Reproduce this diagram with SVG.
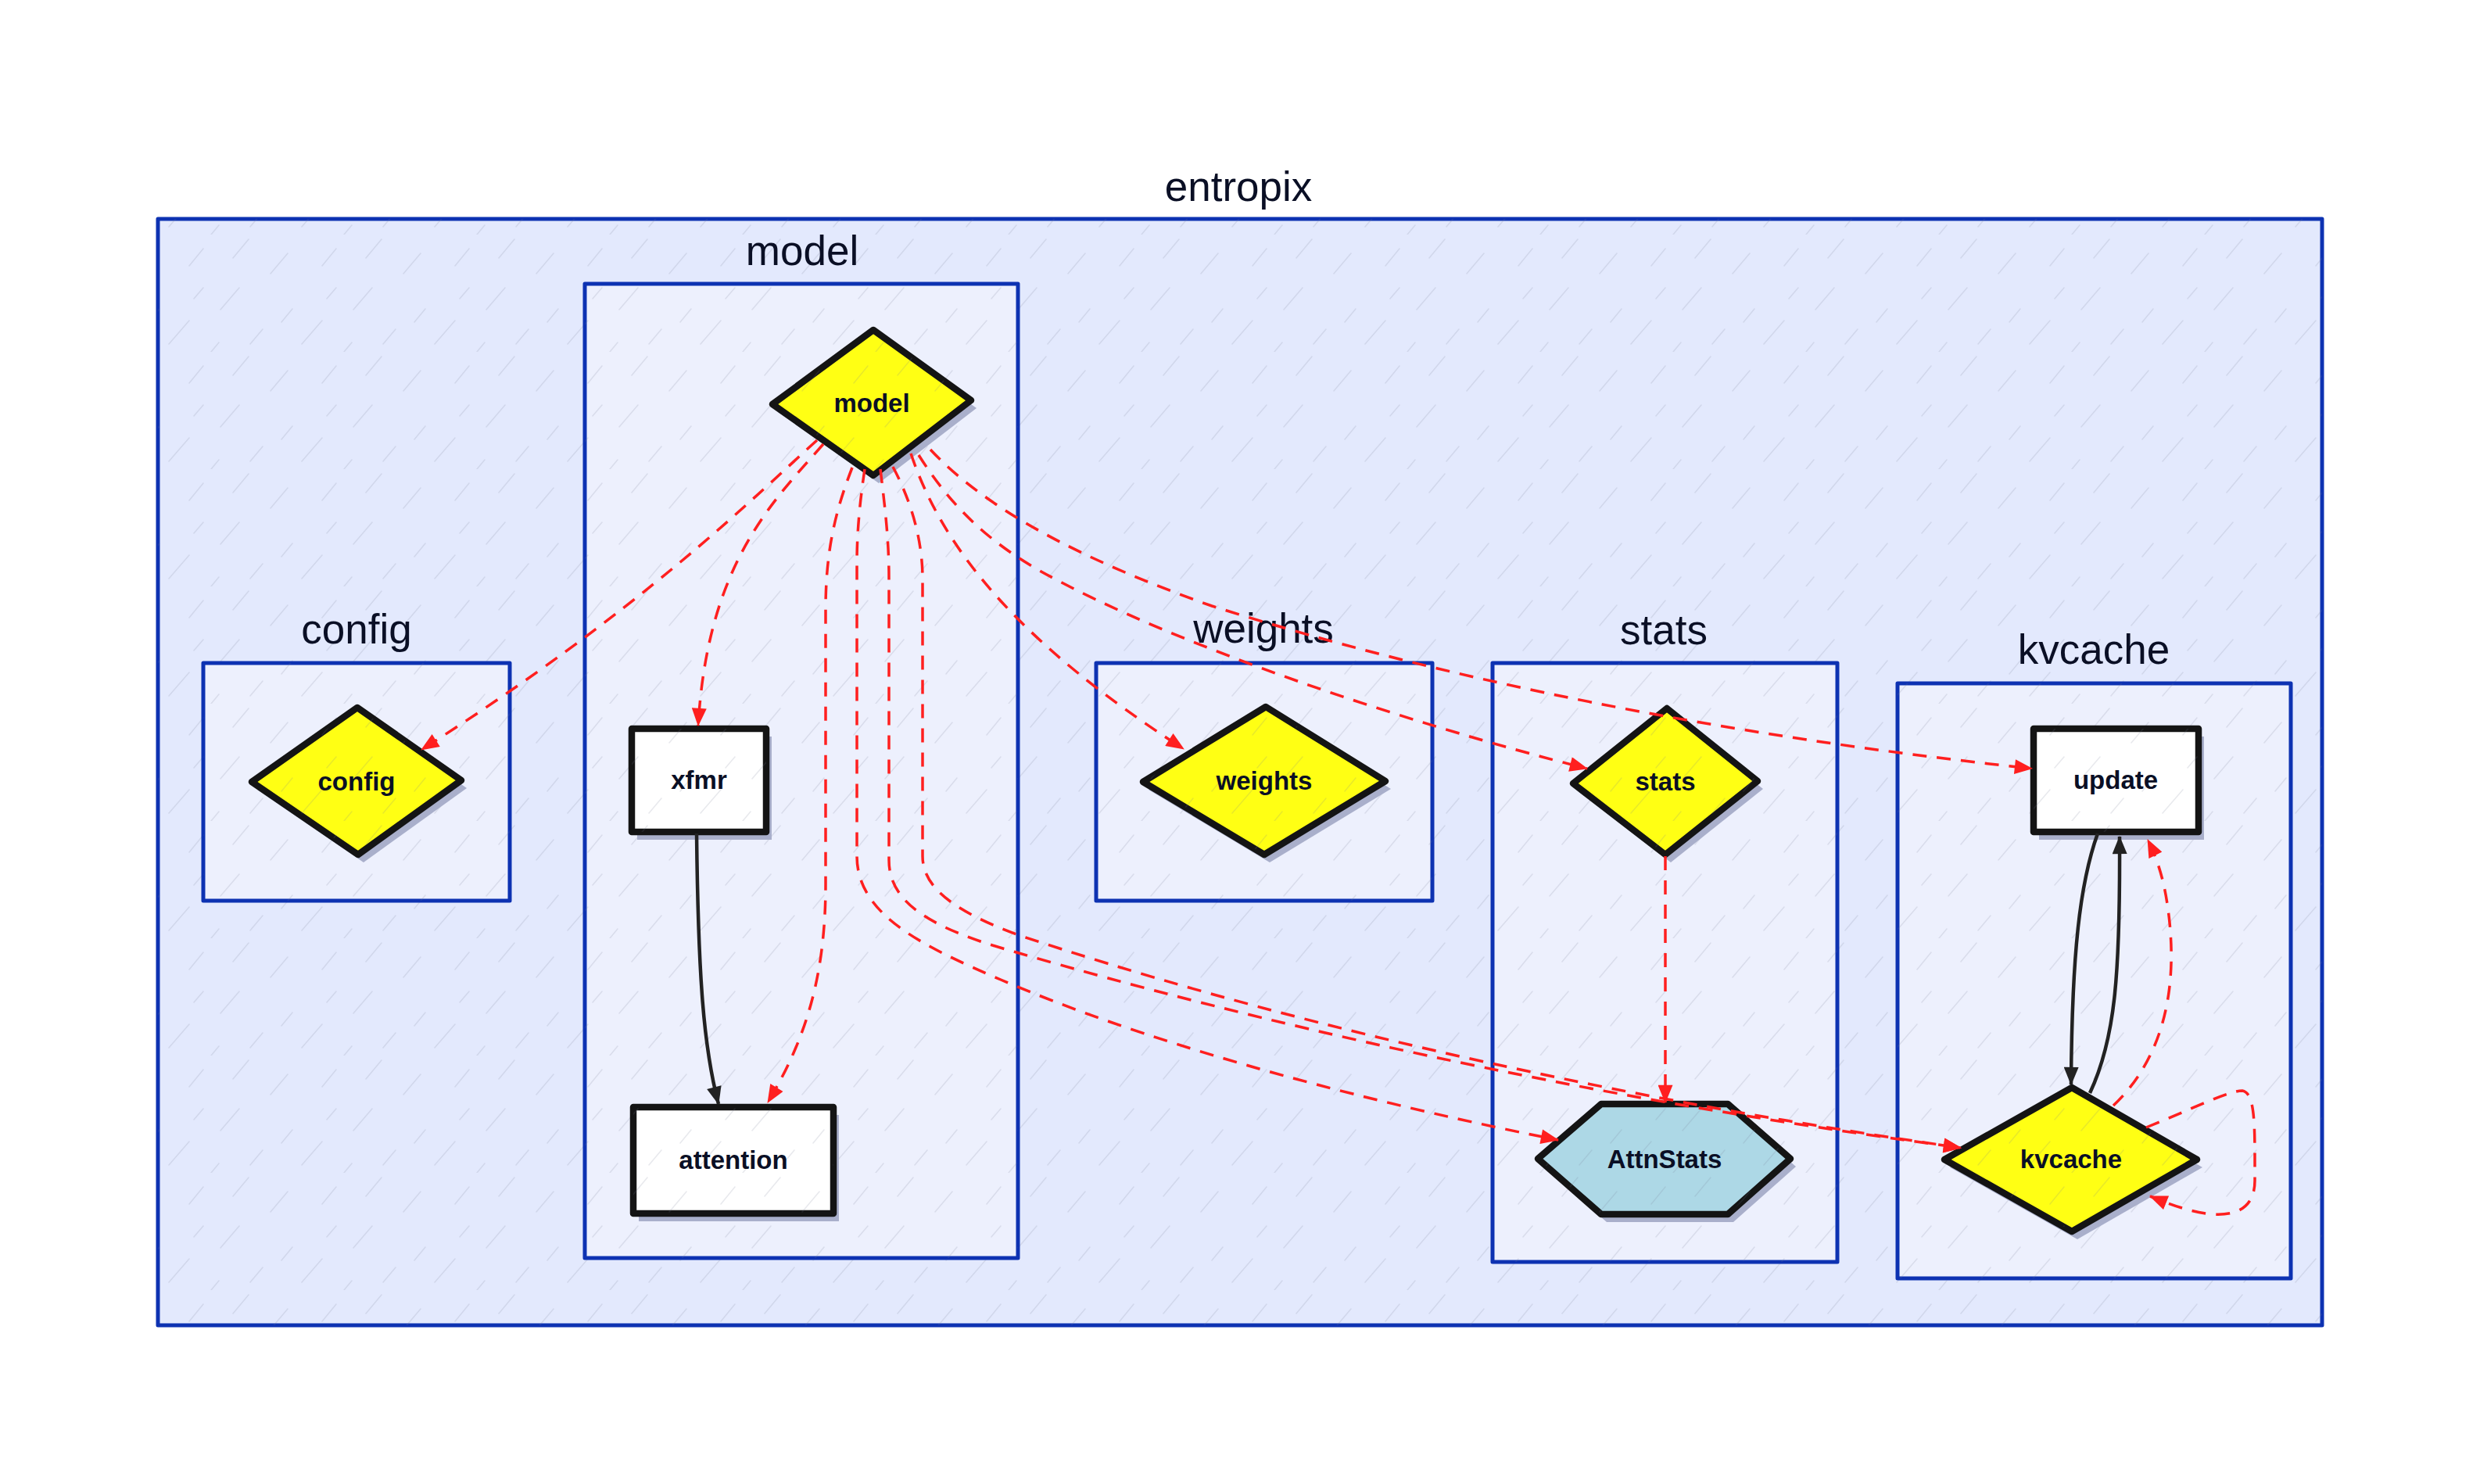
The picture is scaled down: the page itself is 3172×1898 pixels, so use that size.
<svg xmlns="http://www.w3.org/2000/svg" width="3172" height="1898" viewBox="0 0 3172 1898">
<style>
.ctr{stroke:#0D32B2;stroke-width:5;stroke-linejoin:round}
.c1{fill:#E3E9FD}
.c2{fill:#EDF0FD}
.hatch{fill:url(#hatch);stroke:none}
.clabel{font-family:"Liberation Sans",Arial,sans-serif;font-size:53px;fill:#0A0F25;text-anchor:middle}
.nlabel{font-family:"Liberation Sans",Arial,sans-serif;font-weight:bold;font-size:33px;fill:#0A0F25;text-anchor:middle}
.node{stroke:#141414;stroke-width:8.5;stroke-linejoin:round}
.shadow{fill:#A9AFCB}
.yel{fill:#FFFF14}
.wht{fill:#FFFFFF}
.blu{fill:#ADD8E6}
.dash{fill:none;stroke:#FF1F1F;stroke-width:3.5;stroke-dasharray:18 13}
.solid{fill:none;stroke:#222222;stroke-width:4.5}
</style>
<defs>
<pattern id="hatch" patternUnits="userSpaceOnUse" width="170" height="150">
<path d="M6 50 l22 -26 M46 140 l26 -30 M72 40 l18 -22 M112 96 l24 -28 M20 112 l14 -17 M128 30 l20 -24 M78 82 l12 -14 M150 140 l16 -19 M100 150 l10 -12" stroke="#6f7590" stroke-opacity="0.16" stroke-width="1.6" stroke-linecap="round" fill="none"/>
</pattern>
<marker id="ar" viewBox="0 0 22 18" refX="21" refY="9" markerWidth="24" markerHeight="19" markerUnits="userSpaceOnUse" orient="auto"><path d="M0 0 L22 9 L0 18 z" fill="#FF1F1F"/></marker>
<marker id="ab" viewBox="0 0 22 18" refX="21" refY="9" markerWidth="24" markerHeight="19" markerUnits="userSpaceOnUse" orient="auto"><path d="M0 0 L22 9 L0 18 z" fill="#222222"/></marker>
</defs>
<rect width="3172" height="1898" fill="#FFFFFF"/>

<g id="entropix">
<rect class="ctr c1" x="202" y="280" width="2768" height="1415"/>
<rect class="hatch" x="202" y="280" width="2768" height="1415"/>
<text class="clabel" x="1584" y="257" font-size="66">entropix</text>
</g>

<g id="model-container">
<rect class="ctr c2" x="748" y="363" width="554" height="1246"/>
<rect class="hatch" x="748" y="363" width="554" height="1246"/>
<text class="clabel" x="1026" y="339">model</text>
</g>
<g id="config-container">
<rect class="ctr c2" x="260" y="848" width="392" height="304"/>
<rect class="hatch" x="260" y="848" width="392" height="304"/>
<text class="clabel" x="456" y="823">config</text>
</g>
<g id="weights-container">
<rect class="ctr c2" x="1402" y="848" width="430" height="304"/>
<rect class="hatch" x="1402" y="848" width="430" height="304"/>
<text class="clabel" x="1616" y="822">weights</text>
</g>
<g id="stats-container">
<rect class="ctr c2" x="1909" y="848" width="441" height="766"/>
<rect class="hatch" x="1909" y="848" width="441" height="766"/>
<text class="clabel" x="2128" y="824">stats</text>
</g>
<g id="kvcache-container">
<rect class="ctr c2" x="2427" y="874" width="503" height="761"/>
<rect class="hatch" x="2427" y="874" width="503" height="761"/>
<text class="clabel" x="2678" y="849">kvcache</text>
</g>

<g id="node-model">
<polygon class="shadow" points="1124,432 1249,522 1124,618 995,527"/>
<polygon class="node yel" points="1117,422 1242,512 1117,608 988,517"/>
<polygon class="hatch" points="1117,422 1242,512 1117,608 988,517"/>
<text class="nlabel" x="1115" y="527">model</text>
</g>
<g id="node-config">
<polygon class="shadow" points="464,915 597,1008 465,1103 329,1010"/>
<polygon class="node yel" points="457,905 590,998 458,1093 322,1000"/>
<polygon class="hatch" points="457,905 590,998 458,1093 322,1000"/>
<text class="nlabel" x="456" y="1011">config</text>
</g>
<g id="node-xfmr">
<rect class="shadow" x="815" y="942" width="172" height="132"/>
<rect class="node wht" x="808" y="932" width="172" height="132"/>
<rect class="hatch" x="808" y="932" width="172" height="132"/>
<text class="nlabel" x="894" y="1009">xfmr</text>
</g>
<g id="node-attention">
<rect class="shadow" x="817" y="1426" width="256" height="136"/>
<rect class="node wht" x="810" y="1416" width="256" height="136"/>
<rect class="hatch" x="810" y="1416" width="256" height="136"/>
<text class="nlabel" x="938" y="1495">attention</text>
</g>
<g id="node-weights">
<polygon class="shadow" points="1626,914 1779,1009 1624,1103 1469,1010"/>
<polygon class="node yel" points="1619,904 1772,999 1617,1093 1462,1000"/>
<polygon class="hatch" points="1619,904 1772,999 1617,1093 1462,1000"/>
<text class="nlabel" x="1617" y="1010">weights</text>
</g>
<g id="node-stats">
<polygon class="shadow" points="2139,916 2255,1009 2137,1103 2019,1012"/>
<polygon class="node yel" points="2132,906 2248,999 2130,1093 2012,1002"/>
<polygon class="hatch" points="2132,906 2248,999 2130,1093 2012,1002"/>
<text class="nlabel" x="2130" y="1011">stats</text>
</g>
<g id="node-AttnStats">
<polygon class="shadow" points="1974,1492 2055,1422 2217,1422 2297,1492 2217,1563 2055,1563"/>
<polygon class="node blu" points="1967,1482 2048,1412 2210,1412 2290,1482 2210,1553 2048,1553"/>
<polygon class="hatch" points="1967,1482 2048,1412 2210,1412 2290,1482 2210,1553 2048,1553"/>
<text class="nlabel" x="2129" y="1494">AttnStats</text>
</g>
<g id="node-update">
<rect class="shadow" x="2608" y="942" width="211" height="132"/>
<rect class="node wht" x="2601" y="932" width="211" height="132"/>
<rect class="hatch" x="2601" y="932" width="211" height="132"/>
<text class="nlabel" x="2706" y="1009">update</text>
</g>
<g id="node-kvcache">
<polygon class="shadow" points="2657,1401 2817,1493 2657,1585 2494,1493"/>
<polygon class="node yel" points="2650,1391 2810,1483 2650,1575 2487,1483"/>
<polygon class="hatch" points="2650,1391 2810,1483 2650,1575 2487,1483"/>
<text class="nlabel" x="2649" y="1494">kvcache</text>
</g>

<g id="connectors">
<path class="dash" marker-end="url(#ar)" d="M1045 563 C960 640 820 780 539 959"/>
<path class="dash" marker-end="url(#ar)" d="M1053 568 C990 640 905 720 893 928"/>
<path class="dash" marker-end="url(#ar)" d="M1090 598 C1070 650 1056 700 1056 780 L1056 1130 C1056 1250 1030 1330 982 1410"/>
<path class="dash" marker-end="url(#ar)" d="M1106 600 C1100 640 1096 680 1096 720 L1096 1095 C1096 1170 1180 1210 1280 1253 C1450 1326 1700 1400 1993 1458"/>
<path class="dash" marker-end="url(#ar)" d="M1126 600 C1132 650 1137 690 1137 740 L1137 1100 C1137 1150 1180 1185 1300 1218 C1600 1305 2000 1400 2508 1468"/>
<path class="dash" marker-end="url(#ar)" d="M1142 597 C1165 640 1180 690 1180 740 L1180 1095 C1180 1135 1220 1165 1300 1195 C1600 1295 2000 1395 2508 1468"/>
<path class="dash" marker-end="url(#ar)" d="M1165 580 C1205 700 1300 820 1514 958"/>
<path class="dash" marker-end="url(#ar)" d="M1175 582 C1215 645 1260 690 1330 730 C1500 825 1800 925 2030 983"/>
<path class="dash" marker-end="url(#ar)" d="M1190 575 C1260 650 1380 715 1550 775 C1850 870 2200 940 2599 983"/>
<path class="dash" marker-end="url(#ar)" d="M2130 1095 L2130 1410"/>
<path class="solid" marker-end="url(#ab)" d="M891 1066 C893 1250 900 1340 919 1412"/>
<path class="solid" marker-end="url(#ab)" d="M2683 1066 C2660 1130 2650 1220 2649 1387"/>
<path class="solid" marker-end="url(#ab)" d="M2673 1398 C2705 1330 2712 1250 2711 1070"/>
<path class="dash" marker-end="url(#ar)" d="M2703 1414 C2760 1360 2785 1280 2775 1180 C2770 1130 2760 1100 2747 1074"/>
<path class="dash" marker-end="url(#ar)" d="M2745 1442 C2800 1420 2850 1395 2868 1395 C2885 1398 2884 1440 2884 1510 C2884 1545 2860 1555 2830 1553 C2800 1550 2775 1540 2750 1530"/>
</g>
</svg>
